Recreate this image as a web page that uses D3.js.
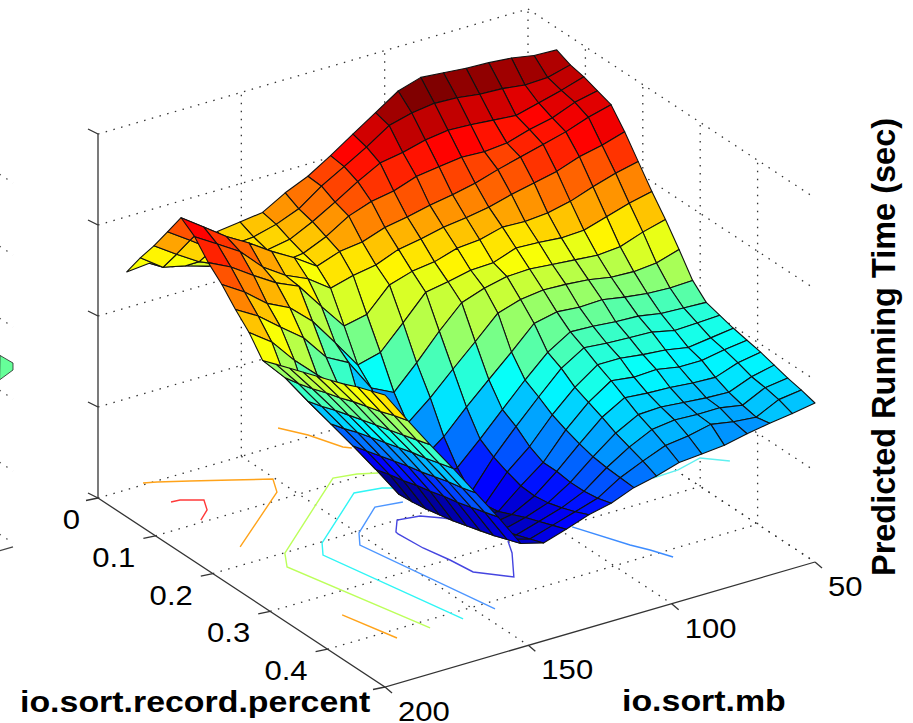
<!DOCTYPE html>
<html>
<head>
<meta charset="utf-8">
<style>
  html, body { margin: 0; background: #fff; }
  svg { display: block; }
  text { font-family: "Liberation Sans", Arial, sans-serif; fill: #000; }
  .tick-label { font-size: 27.5px; }
  .axis-title { font-size: 30px; font-weight: bold; }
  .axis-title.vertical { font-size: 32.5px; }
</style>
</head>
<body>
<div id="chart"></div>
<script src="https://cdnjs.cloudflare.com/ajax/libs/d3/7.8.5/d3.min.js"></script>
<script>
// Surface axes: pct runs along the columns, mb along the rows
const pctValues = [0.05, 0.0737, 0.0974, 0.1211, 0.1447, 0.1684, 0.1921, 0.2158, 0.2395, 0.2632, 0.2868, 0.3105, 0.3342, 0.3579, 0.3816, 0.4053, 0.4289, 0.4526, 0.4763, 0.5];
const mbValues = [200, 192.1, 184.2, 176.3, 168.4, 160.5, 152.6, 144.7, 136.8, 128.9, 121.1, 113.2, 105.3, 97.4, 89.5, 81.6, 73.7, 65.8, 57.9, 50];

// Predicted running time, one row per mb value
const runningTime = [
  [245,268,289,312,335,325,308,295,279,265,246,251,256,261,266,271,276,282,287,292],
  [247,252,274,297,319,311,297,281,266,249,222,225,229,234,238,243,247,251,256,260],
  [237,247,260,281,303,297,282,263,248,224,192,196,201,205,209,213,217,221,225,229],
  [232,240,250,268,290,275,268,252,231,203,163,167,172,176,180,184,188,191,195,199],
  [259,254,250,255,275,260,258,232,205,183,134,138,142,146,150,153,157,161,164,168],
  [262,256,252,248,262,250,231,204,193,155,104,108,111,115,118,122,125,129,133,137],
  [265,262,256,251,247,234,205,175,161,135,73,74,76,79,82,86,90,94,99,104],
  [278,271,267,261,255,240,210,181,150,128,100,90,82,78,78,80,84,88,93,98],
  [288,287,280,275,258,244,233,204,173,147,117,95,79,76,78,84,90,95,100,105],
  [302,300,294,283,266,253,240,228,198,169,140,117,108,102,97,96,98,102,107,113],
  [317,313,306,287,270,257,243,232,220,190,161,140,132,121,114,114,112,112,114,118],
  [332,328,310,295,275,262,250,237,228,212,182,163,155,146,140,135,131,129,128,127],
  [347,334,316,298,279,265,252,238,233,219,204,184,177,167,161,155,148,143,138,132],
  [354,337,319,301,284,269,258,246,234,222,209,198,191,183,176,168,160,154,147,139],
  [352,336,318,300,291,275,257,245,232,221,207,197,189,183,173,166,161,157,150,141],
  [350,333,316,302,297,280,259,243,230,219,208,195,188,180,174,165,159,156,155,143],
  [349,332,314,309,303,285,264,244,228,215,204,194,187,178,170,163,157,156,151,148],
  [347,329,320,314,309,293,272,251,230,214,201,190,182,174,170,162,156,152,149,152],
  [343,330,326,323,317,298,279,258,238,216,200,189,183,177,174,170,165,163,160,155],
  [342,336,333,328,323,305,284,263,244,223,201,188,184,180,177,174,170,166,163,159]
];

// Tick values and labels
const pctTicks = [0, 0.1, 0.2, 0.3, 0.4, 0.5];
const pctTickLabels = ["0", "0.1", "0.2", "0.3", "0.4", ""];
const mbTicks = [200, 150, 100, 50];
const timeTicks = [0, 91, 182, 273, 364];

// Floor contours as [mb, pct] pairs
const contourRed = [[183.8,0.0463],[180.9,0.0474],[175.1,0.0602],[178,0.0802],[183.2,0.0953]];
const contourOrangeLeft = [[183.6,-0.0035],[179.8,0.0021],[171.5,0.0179],[161,0.0385],[150.7,0.0585],[154.5,0.0845],[183.6,0.1657]];
const contourOrangeBack = [[130.7,-0.0324],[126,-0.0036],[122,0.0371],[120.2,0.0437]];
const contourOrangeFront = [[183.9,0.3449],[179.1,0.4165]];
const contourLime = [[123,0.1035],[128.5,0.0941],[135.8,0.0887],[175,0.2007],[179.6,0.2275],[167.4,0.4157]];
const contourCyan = [[124,0.1412],[127.6,0.1332],[136.2,0.1274],[162.3,0.2021],[166.5,0.2247],[156.1,0.4168]];
const contourCyanRight = [[58.3,0.2594],[49.3,0.258],[39.6,0.2478],[33.5,0.2693]];
const contourBlue = [[127.7,0.1701],[136.3,0.1643],[149.7,0.2035],[153.9,0.226],[144.7,0.4155]];
const contourBlueRight = [[95.9,0.3061],[88.5,0.3701],[85.5,0.39],[82.5,0.4151]];
const contourNavy = [[121.2,0.2319],[123.9,0.2208],[128.7,0.2048],[135.7,0.1999],[140.4,0.2214],[140.6,0.2261],[139.7,0.2652],[137.6,0.3016],[136.4,0.3359],[128.4,0.3669],[120,0.3218],[116.6,0.2977]];

// Bit of the neighbouring plot that is cut off by the left edge of the picture
const neighbourTicks = [0, 72, 144, 216, 288, 360];
const neighbourCell = { pct: [0.471, 0.5, 0.5, 0.5], mb: [50, 50, 50, 56], time: [179, 180, 173, 167] };

const width = 913, height = 723;
const textStretch = 1.13; // the reference is wider than it is tall

const svg = d3.select("#chart").append("svg")
    .attr("width", width)
    .attr("height", height)
    .attr("viewBox", `0 0 ${width} ${height}`);

// Corners of the floor on the page
const cornerA = [98, 498], cornerB = [385, 687], cornerC = [815, 562];

// Scales for the three axes
const pctScale = d3.scaleLinear().domain([0, 0.5]).range([0, 1]);
const mbScale = d3.scaleLinear().domain([200, 50]).range([0, 1]);
const timeScale = d3.scaleLinear().domain([0, 364]).range([0, 364]);

function makeProject(origin, factor) {
  // oblique view of (pct, mb, time); origin is the page position of pct 0, mb 200
  return (pct, mb, time) => {
    const p = pctScale(pct) * factor, m = mbScale(mb) * factor;
    return [
      origin[0] + p * (cornerB[0] - cornerA[0]) + m * (cornerC[0] - cornerB[0]),
      origin[1] + p * (cornerB[1] - cornerA[1]) + m * (cornerC[1] - cornerB[1]) - timeScale(time) * factor
    ];
  };
}
const project = makeProject(cornerA, 1);

// jet colormap with 64 steps
const jetRamp = d3.scaleLinear()
    .domain([0, 1 / 8, 3 / 8, 5 / 8, 7 / 8, 1])
    .range(["#000090", "#0000ff", "#00ffff", "#ffff00", "#ff0000", "#800000"]);
const timeExtent = d3.extent(runningTime.flat());
const colorNorm = d3.scaleLinear().domain(timeExtent).range([0, 1]).clamp(true);
const jet = t => jetRamp(Math.round(colorNorm(t) * 63) / 63);

const line = d3.line();

// Grid on the two back walls and the floor
const grid = svg.append("g")
    .attr("fill", "none")
    .attr("stroke", "#333")
    .attr("stroke-width", 1.3)
    .attr("stroke-dasharray", "1.5 6.5");

const gridLines = [];
timeTicks.forEach(t => {
  gridLines.push([project(0, 200, t), project(0, 50, t)]);
  gridLines.push([project(0, 50, t), project(0.5, 50, t)]);
});
mbTicks.slice(1).forEach(m => {
  gridLines.push([project(0, m, 0), project(0, m, 364)]);
  gridLines.push([project(0, m, 0), project(0.5, m, 0)]);
});
pctTicks.slice(1, -1).forEach(p => {
  gridLines.push([project(p, 50, 0), project(p, 50, 364)]);
  gridLines.push([project(p, 200, 0), project(p, 50, 0)]);
});
grid.selectAll("path").data(gridLines).join("path").attr("d", line);

// Axis lines and ticks
const axes = svg.append("g").attr("fill", "none").attr("stroke", "#333").attr("stroke-width", 1.3);
axes.append("path").attr("d", line([project(0, 200, 0), project(0, 200, 364)]));
axes.append("path").attr("d", line([project(0, 200, 0), project(0.5, 200, 0), project(0.5, 50, 0)]));

timeTicks.forEach(t => {
  const [x, y] = project(0, 200, t);
  axes.append("path").attr("d", line([[x, y], [x - 10, y - 5]]));
});
pctTicks.forEach(p => {
  const [x, y] = project(p, 200, 0);
  axes.append("path").attr("d", line([[x, y], [x - 12, y + 2.5]]));
});
mbTicks.forEach(m => {
  const [x, y] = project(0.5, m, 0);
  axes.append("path").attr("d", line([[x, y], [x + 7, y + 6]]));
});

// Floor contours, drawn before the surface so it hides them
const contours = [
  { color: "#ff3a3a", points: contourRed },
  { color: "#ffa31a", points: contourOrangeLeft },
  { color: "#ffa31a", points: contourOrangeBack },
  { color: "#ffa31a", points: contourOrangeFront },
  { color: "#bcff5a", points: contourLime },
  { color: "#2ff5f5", points: contourCyan },
  { color: "#5ff0f0", points: contourCyanRight },
  { color: "#4d96ff", points: contourBlue },
  { color: "#3d8cff", points: contourBlueRight },
  { color: "#4545e0", points: contourNavy }
];
svg.append("g").selectAll("path").data(contours).join("path")
    .attr("fill", "none")
    .attr("stroke", d => d.color)
    .attr("stroke-width", 1.4)
    .attr("d", d => line(d.points.map(([m, p]) => project(p, m, 0))));

// Surface, back to front: far rows first, low pct first
const cells = [];
for (let k = mbValues.length - 2; k >= 0; k--) {
  for (let j = 0; j < pctValues.length - 1; j++) {
    cells.push({
      corners: [[j, k], [j + 1, k], [j + 1, k + 1], [j, k + 1]],
      colorValue: runningTime[k + 1][j]
    });
  }
}
svg.append("g").selectAll("path").data(cells).join("path")
    .attr("fill", d => jet(d.colorValue))
    .attr("stroke", "#111")
    .attr("stroke-width", 1.1)
    .attr("stroke-linejoin", "round")
    .attr("d", d => line(d.corners.map(([j, k]) => project(pctValues[j], mbValues[k], runningTime[k][j]))) + "Z");

// Fragment of the neighbouring plot
const neighbourProject = makeProject([13 - 0.78 * 717, 543 - 0.78 * 64], 0.78);
const neighbour = svg.append("g");
neighbour.selectAll("path.wall").data(neighbourTicks).join("path")
    .attr("class", "wall")
    .attr("fill", "none")
    .attr("stroke", "#555")
    .attr("stroke-width", 1.3)
    .attr("stroke-dasharray", "1.5 6.5")
    .attr("d", t => line([neighbourProject(0.47, 50, t / 0.78), neighbourProject(0.5, 50, t / 0.78)]));
neighbour.append("path")
    .attr("fill", "#66ff99")
    .attr("stroke", "#222")
    .attr("stroke-width", 0.8)
    .attr("d", line(neighbourCell.pct.map((p, i) => neighbourProject(p, neighbourCell.mb[i], neighbourCell.time[i] / 0.78))) + "Z");
neighbour.append("path")
    .attr("fill", "none")
    .attr("stroke", "#444")
    .attr("stroke-width", 1.2)
    .attr("d", line([neighbourProject(0.5, 50, -5), neighbourProject(0.5, 56, -5)]));

// Tick labels
svg.append("g").selectAll("text").data(pctTicks).join("text")
    .attr("class", "tick-label")
    .attr("text-anchor", "end")
    .attr("transform", d => {
      const [x, y] = project(d, 200, 0);
      return `translate(${x - (d === 0 ? 18 : 20)},${y + 31}) scale(${textStretch},1)`;
    })
    .text((d, i) => pctTickLabels[i]);

svg.append("g").selectAll("text").data(mbTicks).join("text")
    .attr("class", "tick-label")
    .attr("transform", d => {
      const [x, y] = project(0.5, d, 0);
      return `translate(${x + 13},${y + 34}) scale(${textStretch},1)`;
    })
    .text(d => d);

// Axis titles
svg.append("text").attr("class", "axis-title")
    .attr("transform", `translate(20,712) scale(${textStretch},1)`)
    .text("io.sort.record.percent");
svg.append("text").attr("class", "axis-title")
    .attr("transform", `translate(622,711) scale(${textStretch},1)`)
    .text("io.sort.mb");
svg.append("text")
    .attr("class", "axis-title vertical")
    .attr("transform", "translate(895,347) rotate(-90)")
    .attr("text-anchor", "middle")
    .text("Predicted Running Time (sec)");
</script>
</body>
</html>
